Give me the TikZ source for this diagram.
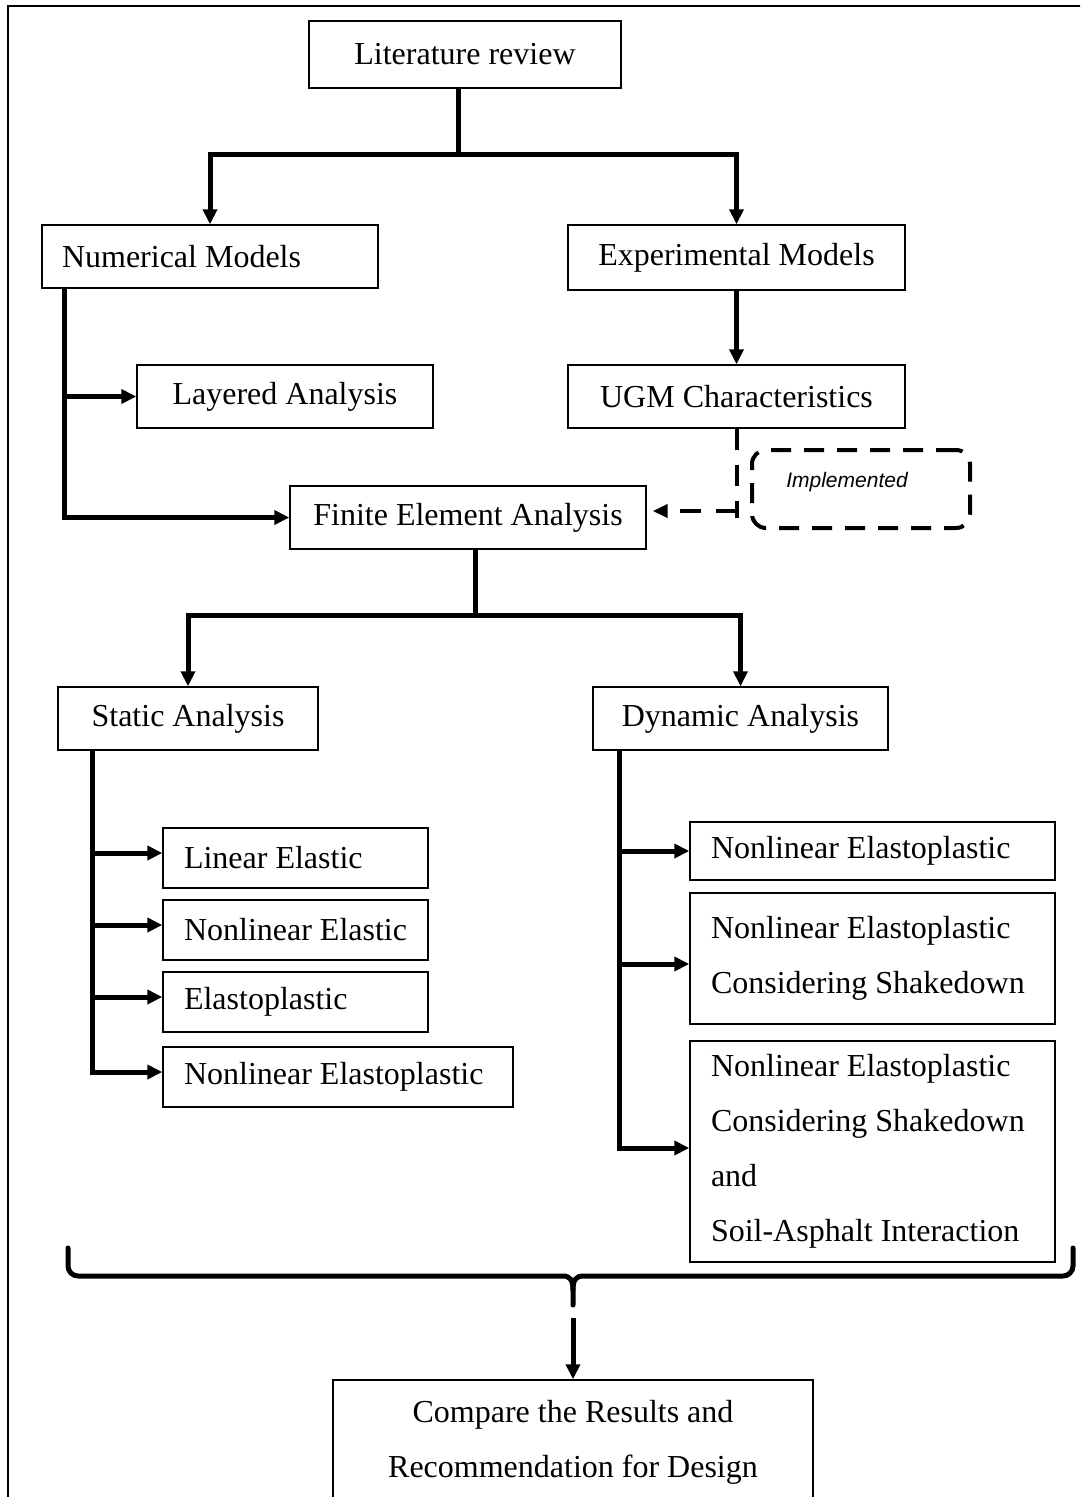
\documentclass[tikz,border=0pt]{standalone}
\usepackage{fontspec}
\setmainfont{Liberation Serif}
\newfontfamily\implfont{Liberation Sans}
\usetikzlibrary{arrows.meta,calc}
\newcommand\myleftbox[2]{\makebox[#1][l]{#2}}
\newcommand\myleftpar[2]{\parbox[c]{#1}{\raggedright #2}}
\begin{document}
\begin{tikzpicture}[x=1pt,y=-1pt,
  box/.style={draw=black,line width=1.4pt,inner sep=0pt,font=\fontsize{32}{55}\selectfont},
  cbox/.style={box,align=center},
  lbox/.style={box,inner xsep=21pt},
  conn/.style={line width=5pt},
  arr/.style={conn,-{Triangle[length=15pt,width=14pt]}},
  barr/.style={conn,{Triangle[length=15pt,width=14pt]}-{Triangle[length=15pt,width=14pt]}},
  dconn/.style={line width=4pt,dash pattern=on 21pt off 15pt},
]
\useasboundingbox (0,0) rectangle (1080,1497);
\clip (0,0) rectangle (1080,1497);
% outer frame
\draw[line width=2pt] (8,1520) -- (8,6) -- (1100,6);

% nodes
\node[cbox,minimum width=312pt,minimum height=67pt] (lit) at (465,54.5) {Literature review};
\node[lbox,minimum width=336pt,minimum height=63pt,inner xsep=20pt] (num) at (210,256.5) {\myleftbox{296pt}{Numerical Models}};
\node[cbox,minimum width=337pt,minimum height=65pt] (exp) at (736.5,257.5) {Experimental Models};
\node[cbox,minimum width=296pt,minimum height=63pt] (lay) at (285,396.5) {Layered Analysis};
\node[cbox,minimum width=337pt,minimum height=63pt] (ugm) at (736.5,396.5) {UGM Characteristics};
\node[cbox,minimum width=356pt,minimum height=63pt] (fea) at (468,517.5) {Finite Element Analysis};
\node[draw=black,line width=4pt,dash pattern=on 20pt off 13pt,rounded corners=14pt,
      minimum width=218pt,minimum height=78pt,inner sep=0pt,font=\implfont\itshape\fontsize{21}{25}\selectfont]
      (impl) at (861,489) {\raisebox{1.5pt}[0pt][0pt]{\makebox[0pt]{\hspace*{-28pt}Implemented}}};
\node[cbox,minimum width=260pt,minimum height=63pt] (sta) at (188,718.5) {Static Analysis};
\node[cbox,minimum width=295pt,minimum height=63pt] (dyn) at (740.5,718.5) {Dynamic Analysis};
\node[lbox,minimum width=265pt,minimum height=60pt] (le) at (295.5,858) {\myleftbox{223pt}{Linear Elastic}};
\node[lbox,minimum width=265pt,minimum height=60pt] (nle) at (295.5,930) {\myleftbox{223pt}{Nonlinear Elastic}};
\node[lbox,minimum width=265pt,minimum height=60pt] (ep) at (295.5,1002) {\myleftbox{223pt}{Elastoplastic}};
\node[lbox,minimum width=350pt,minimum height=60pt] (nlep) at (338,1077) {\myleftbox{308pt}{Nonlinear Elastoplastic}};
\node[lbox,minimum width=365pt,minimum height=58pt] (d1) at (872.5,851) {\myleftbox{323pt}{Nonlinear Elastoplastic}};
\node[lbox,minimum width=365pt,minimum height=131pt] (d2) at (872.5,958.5) {\myleftpar{323pt}{Nonlinear Elastoplastic\\Considering Shakedown}};
\node[lbox,minimum width=365pt,minimum height=221pt] (d3) at (872.5,1151.5) {\myleftpar{323pt}{Nonlinear Elastoplastic\\Considering Shakedown\\and\\Soil-Asphalt Interaction}};
\node[cbox,minimum width=480pt,minimum height=124pt] (cmp) at (573,1442) {Compare the Results and\\Recommendation for Design};

% helper coordinates
\coordinate (t1) at (458,154);
\coordinate (t2) at (475,615);
\coordinate (nx) at ([xshift=23pt]num.south west);
\coordinate (sx) at ([xshift=35pt]sta.south west);
\coordinate (dx) at ([xshift=27pt]dyn.south west);
\coordinate (dj) at (736.5,511);
\coordinate (bt) at (573,1318);

% literature review split
\draw[conn] (lit.south -| t1) -- (t1);
\draw[barr] (num.north) -- (num.north |- t1) -- (exp.north |- t1) -- (exp.north);

% numerical branch
\draw[arr] (nx) |- (fea.west);
\draw[arr] (nx |- lay.west) -- (lay.west);

% experimental
\draw[arr] (exp.south) -- (ugm.north);

% implemented dashed link
\draw[dconn] (ugm.south) -- (ugm.south |- 0,518);
\draw[dconn,-{Triangle[length=15pt,width=13pt]},shorten >=6pt] (dj) -- (dj -| fea.east);

% FEA split
\draw[conn] ([xshift=7pt]fea.south) -- (t2);
\draw[barr] (sta.north) -- (sta.north |- t2) -- (dyn.north |- t2) -- (dyn.north);

% static branches
\coordinate (le-in) at ([yshift=5pt]le.west);
\coordinate (nle-in) at ([yshift=5pt]nle.west);
\coordinate (ep-in) at ([yshift=5pt]ep.west);
\coordinate (nlep-in) at ([yshift=5pt]nlep.west);
\draw[arr] (sx) |- (nlep-in);
\draw[arr] (sx |- le-in) -- (le-in);
\draw[arr] (sx |- nle-in) -- (nle-in);
\draw[arr] (sx |- ep-in) -- (ep-in);

% dynamic branches
\coordinate (d1-in) at (d1.west);
\coordinate (d2-in) at ([yshift=-5.5pt]d2.west);
\coordinate (d3-in) at ([yshift=3.5pt]d3.west);
\draw[arr] (dx) |- (d3-in);
\draw[arr] (dx |- d1-in) -- (d1-in);
\draw[arr] (dx |- d2-in) -- (d2-in);

% brace
\draw[line width=5pt,line cap=round,line join=round]
  (68,1248) -- (68,1266) arc[start angle=180,end angle=90,radius=10] -- (563,1276)
  .. controls (570,1276) and (573,1280) .. (573,1290) -- (573,1305);
\draw[line width=5pt,line cap=round,line join=round]
  (1073,1248) -- (1073,1266) arc[start angle=0,end angle=90,radius=10] -- (583,1276)
  .. controls (576,1276) and (573,1280) .. (573,1290);
\draw[arr] (bt) -- (cmp.north);
\end{tikzpicture}
\end{document}
